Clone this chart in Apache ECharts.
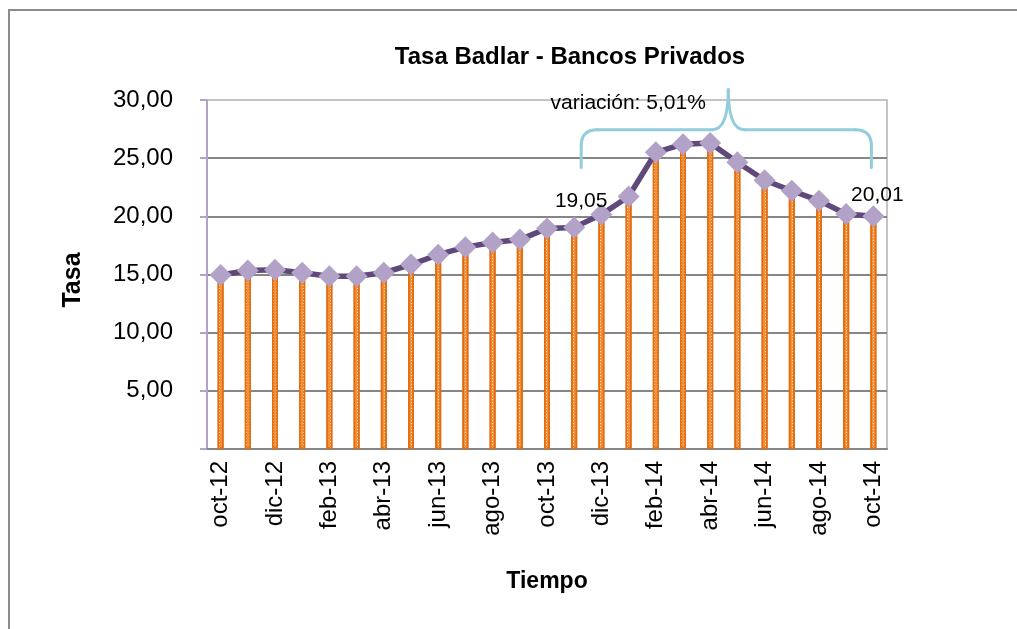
<!DOCTYPE html>
<html>
<head>
<meta charset="utf-8">
<script src="https://cdn.jsdelivr.net/npm/echarts@6/dist/echarts.min.js"></script>
<style>
html,body{margin:0;padding:0;background:#fff;}
#chart{width:1017px;height:629px;}
</style>
</head>
<body>
<div id="chart"></div>
<script>
const categories = ['oct-12','nov-12','dic-12','ene-13','feb-13','mar-13','abr-13','may-13','jun-13','jul-13','ago-13','sep-13','oct-13','nov-13','dic-13','ene-14','feb-14','mar-14','abr-14','may-14','jun-14','jul-14','ago-14','sep-14','oct-14'];
const tasa = [14.95,15.35,15.40,15.15,14.85,14.85,15.15,15.85,16.70,17.35,17.75,18.00,18.95,19.05,20.15,21.70,25.50,26.20,26.30,24.65,23.10,22.20,21.35,20.20,20.01];
const labeledPoints = ['nov-13','oct-14'];
const yTicks = [0,5,10,15,20,25,30];
const titleText = 'Tasa Badlar - Bancos Privados';
const yName = 'Tasa';
const xName = 'Tiempo';
const braceText = 'variación: 5,01%';

function hasFont(name){
  const c=document.createElement('canvas').getContext('2d');
  const s='Tasa Badlar mmmlliWW 0123';
  c.font='bold 40px monospace'; const a=c.measureText(s).width;
  c.font='bold 40px "'+name+'", monospace'; const b=c.measureText(s).width;
  return a!==b;
}
const narrow = hasFont('Liberation Sans Narrow');
const titleFont = narrow ? '"Liberation Sans Narrow"' : '"Liberation Sans"';
const titleSize = narrow ? 28 : 24;
const F = '"Liberation Sans", Arial, sans-serif';
const fmt = v => v.toFixed(2).replace('.', ',');

const chart = echarts.init(document.getElementById('chart'), null, {renderer:'canvas'});
const lineData = tasa.map((v,i)=>{
  const it = {value:v};
  if (labeledPoints.includes(categories[i])) {
    it.label = {show:true, position:'top', formatter: p=>fmt(p.value), color:'#000', fontFamily:F, fontSize:21,
      offset: categories[i]==='nov-13' ? [7,0] : [4,5]};
  }
  return it;
});

chart.setOption({
  animation:false,
  backgroundColor:'#fff',
  title:{text:titleText, left:565, top:40, textAlign:'center',
    textStyle:{fontFamily:titleFont, fontWeight:'bold', fontSize:titleSize, color:'#000'}},
  grid:{left:207, right:130, top:100, bottom:180, show:true, borderColor:'#c4c4c4', borderWidth:2},
  xAxis:{type:'category', data:categories, boundaryGap:true,
    axisLine:{lineStyle:{color:'#868686', width:2}},
    axisTick:{show:false},
    axisLabel:{interval:1, rotate:90, margin:12, color:'#000', fontFamily:F, fontSize:24}},
  yAxis:{type:'value', min:yTicks[0], max:yTicks[yTicks.length-1], interval:5,
    axisLine:{show:true, lineStyle:{color:'#B3A2C7', width:2}},
    axisTick:{show:true, inside:false, length:7, lineStyle:{color:'#B3A2C7', width:2}},
    splitLine:{show:true, lineStyle:{color:['#868686','#868686','#868686','#868686','#868686','#868686','#c4c4c4'], width:2}},
    axisLabel:{margin:34, color:'#000', fontFamily:F, fontSize:24, formatter:v=> v===0 ? '' : fmt(v)}},
  series:[
    {type:'bar', data:tasa, barWidth:6, z:2,
      itemStyle:{color:'#F0913F', borderColor:'#E46C0A', borderWidth:1.5,
        decal:{symbol:'rect', symbolSize:1, color:'rgba(255,236,215,0.8)', dashArrayX:[1,2], dashArrayY:[1,2]}}},
    {type:'line', data:lineData, z:3, symbol:'diamond', symbolSize:22, showAllSymbol:true,
      lineStyle:{color:'#5F497A', width:5.5},
      itemStyle:{color:'#B3A2C7', borderWidth:0}}
  ]
});

function drawExtras(){
  const i0 = categories.indexOf(labeledPoints[0]);
  const i1 = categories.indexOf(labeledPoints[1]);
  const xa = chart.convertToPixel({xAxisIndex:0}, i0) + 7;
  const xb = chart.convertToPixel({xAxisIndex:0}, i1) - 2;
  const yEnd = chart.convertToPixel({yAxisIndex:0}, 24.2);
  const yBar = chart.convertToPixel({yAxisIndex:0}, 27.45);
  const yTip = chart.convertToPixel({yAxisIndex:0}, 30.9);
  const xm = (xa+xb)/2 + 2;
  const r = 16;
  const st = {stroke:'#93CDDD', lineWidth:3, fill:null, lineCap:'round'};
  const seg = (x1,y1,x2,y2)=>({type:'line', shape:{x1,y1,x2,y2}, style:st, z:10});
  const crv = (x1,y1,cx,cy,x2,y2)=>({type:'bezierCurve', shape:{x1,y1,cpx1:cx,cpy1:cy,x2,y2}, style:st, z:10});
  const brace = [
    seg(xa,yEnd,xa,yBar+r),
    crv(xa,yBar+r,xa,yBar,xa+r,yBar),
    seg(xa+r,yBar,xm-r,yBar),
    crv(xm-r,yBar,xm,yBar,xm,yTip),
    crv(xm,yTip,xm,yBar,xm+r,yBar),
    seg(xm+r,yBar,xb-r,yBar),
    crv(xb-r,yBar,xb,yBar,xb,yBar+r),
    seg(xb,yBar+r,xb,yEnd)
  ];
  chart.setOption({graphic:[
    {type:'rect', shape:{x:9, y:10, width:1040, height:660}, style:{fill:'transparent', stroke:'#8c8c8c', lineWidth:2}, silent:true, z:0},
    ...brace,
    {type:'text', x:xa+47, y:yTip+14, style:{text:braceText, fill:'#000', font:'21px '+F, textAlign:'center', textVerticalAlign:'middle'}, z:11},
    {type:'text', x:73, y:280, rotation:Math.PI/2, style:{text:yName, fill:'#000', font:'bold 25px '+F, textAlign:'center', textVerticalAlign:'middle'}},
    {type:'text', x:547, y:582, style:{text:xName, fill:'#000', font:'bold 23px '+F, textAlign:'center', textVerticalAlign:'middle'}}
  ]});
}
drawExtras();
</script>
</body>
</html>
